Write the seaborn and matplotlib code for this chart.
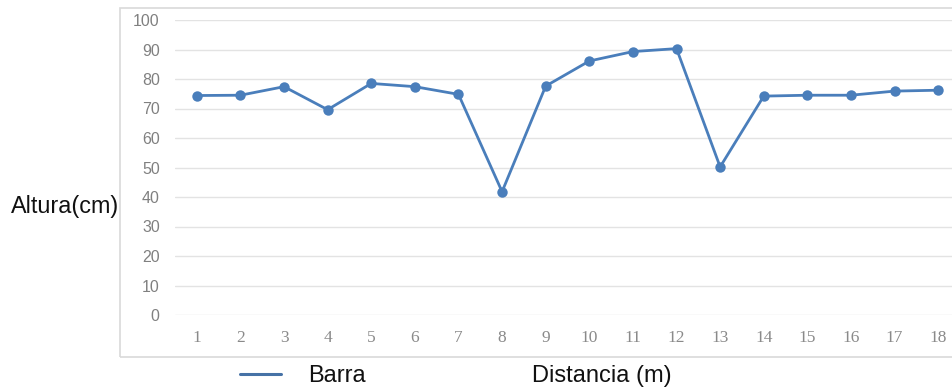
import matplotlib
matplotlib.use("Agg")
import matplotlib.pyplot as plt
import seaborn as sns
import pandas as pd
from matplotlib.lines import Line2D
from matplotlib.patches import Rectangle

distancia = list(range(1, 19))
altura = [74.4, 74.5, 77.4, 69.6, 78.5, 77.4, 74.8, 41.8, 77.6, 86.1,
          89.3, 90.3, 50.2, 74.2, 74.5, 74.5, 75.9, 76.2]
serie = "Barra"
x_label = "Distancia (m)"
y_label = "Altura(cm)"
y_ticks = list(range(0, 101, 10))

sns.set_theme(style="white")
plt.rcParams['font.family'] = ['Liberation Sans', 'DejaVu Sans']

df = pd.DataFrame({"Distancia": distancia, "Altura": altura})

fig = plt.figure(figsize=(9.52, 3.90), dpi=100)
W, H = 952, 390

# outer chart border
fig.patches.append(Rectangle((120 / W, 1 - 357 / H), (960 - 120) / W, (357 - 8) / H,
                             transform=fig.transFigure, fill=False,
                             edgecolor="#d9d9d9", linewidth=1.2, zorder=0))

ax = fig.add_axes([175 / W, 1 - 315 / H, (960 - 175) / W, (315 - 20) / H])
color = "#4a7ebb"
sns.lineplot(data=df, x="Distancia", y="Altura", ax=ax, color=color,
             marker="o", markersize=7.5, markeredgewidth=0, linewidth=2.0,
             legend=False, zorder=3)

ax.set_xlim(0.5, 18.5)
ax.set_ylim(0, 100)
ax.set_yticks(y_ticks)
ax.set_xticks(distancia)
ax.set_xticklabels([str(d) for d in distancia], family=['Liberation Serif', 'DejaVu Serif'],
                   fontsize=12.5, color="#8a8a8a")
ax.set_yticklabels([str(t) for t in y_ticks], fontsize=11.5, color="#808080")
ax.tick_params(axis="x", length=0, pad=10.5)
ax.tick_params(axis="y", length=0, pad=11)
ax.grid(axis="y", color="#e3e3e3", linewidth=1.0)
ax.grid(axis="x", visible=False)
for s in ax.spines.values():
    s.set_visible(False)
ax.set_facecolor("none")

ax.set_xlabel("")
ax.set_ylabel("")
fig.text(65 / W, 1 - 206 / H, y_label, ha="center", va="center", fontsize=16.8, color="#111111")
fig.text(602 / W, 1 - 376 / H, x_label, ha="center", va="center", fontsize=17, color="#111111")

handle = Line2D([0], [0], color="#4672a6", linewidth=2.2)
leg = fig.legend([handle], [serie], loc="center left",
                 bbox_to_anchor=(240 / W, 1 - 376 / H), frameon=False,
                 fontsize=17, handlelength=1.74, handletextpad=1.15,
                 borderpad=0, borderaxespad=0)
for t in leg.get_texts():
    t.set_color("#111111")

fig.savefig("out.png", dpi=100)
